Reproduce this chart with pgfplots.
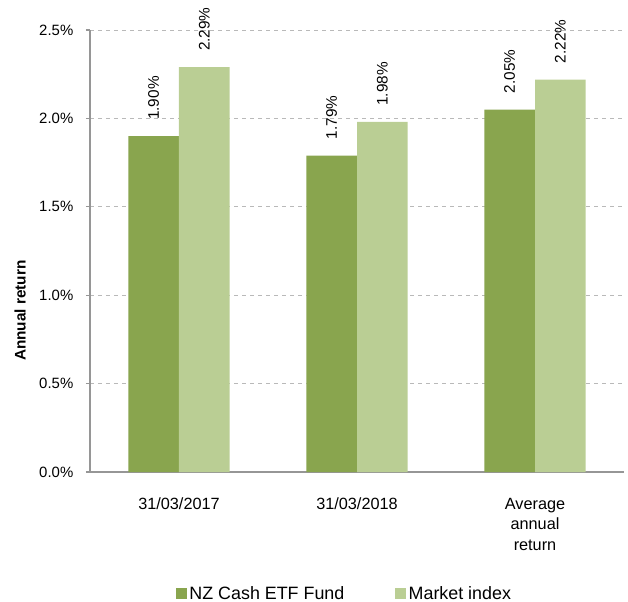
\documentclass[border=0pt]{standalone}
\usepackage{pgfplots}
\pgfplotsset{compat=1.18}
\usepackage{fontspec}
\setmainfont{Liberation Sans}
\definecolor{darkg}{RGB}{137,165,78}
\definecolor{lightg}{RGB}{186,206,148}
\definecolor{axgray}{RGB}{150,150,150}
\definecolor{gridgray}{RGB}{185,185,185}
\begin{document}
\begin{tikzpicture}
\begin{axis}[
  at={(0,0)}, anchor=south west,
  scale only axis, width=400.5pt, height=331.5pt,
  ybar=0pt, bar width=38pt,
  xmin=-0.5, xmax=2.5, ymin=0, ymax=2.5,
  axis x line=bottom, axis y line=left,
  axis line style={-, axgray, line width=0.9pt},
  xtick={0,1,2},
  xticklabels={31/03/2017, 31/03/2018, {Average\\annual\\return}},
  xticklabel style={align=center, font=\fontsize{12.2}{15.4}\selectfont, yshift=-13pt},
  x tick style={draw=none},
  extra x ticks={-0.5,0.5,1.5,2.5},
  extra x tick labels={},
  extra x tick style={major tick length=5pt, tick style={draw=axgray, line width=0.9pt}, tick align=outside},
  ytick={0,0.5,1,1.5,2,2.5},
  yticklabels={0.0\%,0.5\%,1.0\%,1.5\%,2.0\%,2.5\%},
  yticklabel style={font=\fontsize{11.2}{13}\selectfont, xshift=-6pt},
  y tick style={draw=axgray, line width=0.9pt},
  tick align=outside, major tick length=3pt,
  ymajorgrids, grid style={dashed, gridgray, line width=0.5pt},
  ylabel={\textbf{Annual return}},
  ylabel style={at={(axis description cs:-0.131,0.365)}, anchor=center, font=\fontsize{11.5}{13}\selectfont},
  nodes near coords,
  point meta=explicit symbolic,
  nodes near coords style={rotate=90, anchor=west, inner xsep=12pt, font=\fontsize{11.5}{13}\selectfont, black},
  legend columns=2,
  legend style={at={(axis description cs:0.477,-0.275)}, anchor=center, draw=none, fill=none,
    font=\fontsize{13.4}{15}\selectfont, /tikz/every even column/.append style={column sep=36pt}},
  legend image code/.code={\fill[#1,draw=none] (0pt,-4.1pt) rectangle (8.25pt,4.1pt);},
]
\addplot[fill=darkg, draw=none] table[x=x, y=y, meta=lab] {
x y lab
0 1.90 1.90\%
1 1.79 1.79\%
2 2.05 2.05\%
};
\addplot[fill=lightg, draw=none] table[x=x, y=y, meta=lab] {
x y lab
0 2.29 2.29\%
1 1.98 1.98\%
2 2.22 2.22\%
};
\legend{NZ Cash ETF Fund, Market index}
\end{axis}
\pgfresetboundingbox
\path[use as bounding box] (-67.5pt,-96.75pt) rectangle (403.5pt,354pt);
\end{tikzpicture}
\end{document}
